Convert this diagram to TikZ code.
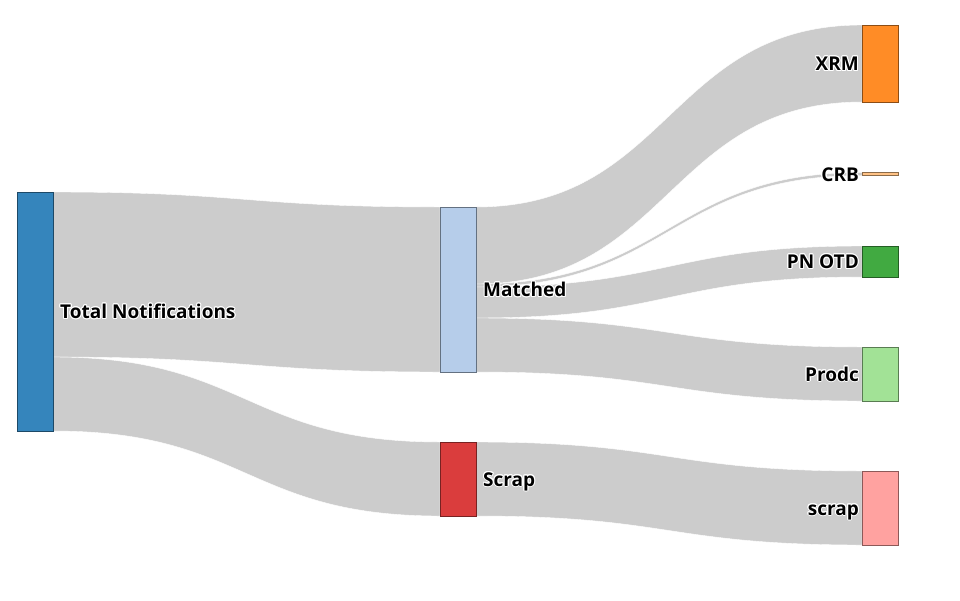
\documentclass[tikz,border=0pt]{standalone}
\usepackage{fontspec}
\setmainfont{Open Sans}[BoldFont={Open Sans Bold}]
\usepackage{contour}
\contourlength{1pt}
\usetikzlibrary{calc}
\pgfdeclarelayer{bg}
\pgfsetlayers{bg,main}

\definecolor{cTotal}{HTML}{3585BC}
\definecolor{cMatched}{HTML}{B6CDEA}
\definecolor{cScrap}{HTML}{DA3D3D}
\definecolor{cXRM}{HTML}{FF8C26}
\definecolor{cCRB}{HTML}{FFC285}
\definecolor{cPNOTD}{HTML}{41AA41}
\definecolor{cProdc}{HTML}{A2E296}
\definecolor{cscrap}{HTML}{FFA2A0}

% band from source (offset) to target (offset), width
\newcommand{\flow}[5]{%
	\coordinate (fa) at ($(#1.north east)+(0,#2)$) ;
	\coordinate (fb) at ($(#3.north west)+(0,#4)$) ;
	\coordinate (fc) at ($(fa)+(0,#5)$) ;
	\coordinate (fd) at ($(fb)+(0,#5)$) ;
	\coordinate (fm) at ($(fa)!0.5!(fb)$) ;
	\fill[band] (fa) .. controls (fm |- fa) and (fm |- fb) .. (fb) -- (fd) .. controls (fm |- fd) and (fm |- fc) .. (fc) -- cycle ;
}

\begin{document}
\begin{tikzpicture}[x=1pt,y=-1pt,
	box/.style={rectangle,draw=#1!55!black,fill=#1,line width=0.6pt,anchor=north west,inner sep=0pt,outer sep=0pt,minimum width=36pt},
	band/.style={fill=black!20,draw=white,line width=0.4pt},
	lab/.style={inner sep=0pt,font=\fontsize{19}{22}\selectfont\bfseries}]
	\useasboundingbox (0,0) rectangle (960,600) ;
	\node[box=cTotal,minimum height=239pt] (Total) at (17,192) {} ;
	\node[box=cMatched,minimum height=165pt] (Matched) at (440,207) {} ;
	\node[box=cScrap,minimum height=74pt] (Scrap) at (440,442) {} ;
	\node[box=cXRM,minimum height=77pt] (XRM) at (862,25) {} ;
	\node[box=cCRB,minimum height=3pt] (CRB) at (862,172.5) {} ;
	\node[box=cPNOTD,minimum height=31pt] (PNOTD) at (862,246) {} ;
	\node[box=cProdc,minimum height=54pt] (Prodc) at (862,347) {} ;
	\node[box=cscrap,minimum height=74pt] (scrapOut) at (862,471) {} ;
	\begin{pgfonlayer}{bg}
		\flow{Total}{0}{Matched}{0}{165}
		\flow{Total}{165}{Scrap}{0}{74}
		\flow{Matched}{0}{XRM}{0}{77}
		\flow{Matched}{77}{CRB}{0}{3}
		\flow{Matched}{80}{PNOTD}{0}{31}
		\flow{Matched}{111}{Prodc}{0}{54}
		\flow{Scrap}{0}{scrapOut}{0}{74}
	\end{pgfonlayer}
	\node[lab,anchor=base west] (LTotal) at ([xshift=7pt,yshift=-7pt]Total.east) {\contour{white}{Total Notifications}} ;
	\node[lab,anchor=base west] (LMatched) at ([xshift=7pt,yshift=-7pt]Matched.east) {\contour{white}{Matched}} ;
	\node[lab,anchor=base west] (LScrap) at ([xshift=7pt,yshift=-7pt]Scrap.east) {\contour{white}{Scrap}} ;
	\node[lab,anchor=base east] (LXRM) at ([xshift=-3pt,yshift=-7pt]XRM.west) {\contour{white}{XRM}} ;
	\node[lab,anchor=base east] (LCRB) at ([xshift=-3pt,yshift=-7pt]CRB.west) {\contour{white}{CRB}} ;
	\node[lab,anchor=base east] (LPNOTD) at ([xshift=-3pt,yshift=-7pt]PNOTD.west) {\contour{white}{PN OTD}} ;
	\node[lab,anchor=base east] (LProdc) at ([xshift=-3pt,yshift=-7pt]Prodc.west) {\contour{white}{Prodc}} ;
	\node[lab,anchor=base east] (LscrapOut) at ([xshift=-3pt,yshift=-7pt]scrapOut.west) {\contour{white}{scrap}} ;
\end{tikzpicture}
\end{document}
